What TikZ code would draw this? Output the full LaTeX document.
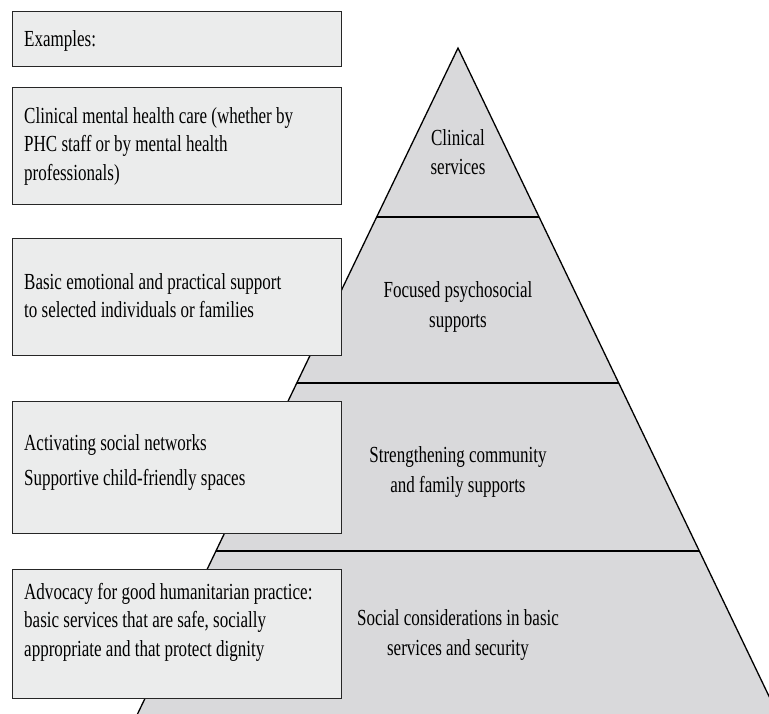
\documentclass[tikz,border=0pt]{standalone}
\usepackage{fontspec}
\setmainfont{Liberation Serif}[FakeStretch=0.74]
\usetikzlibrary{calc}
\definecolor{boxfill}{HTML}{EBECEC}
\definecolor{pyrfill}{HTML}{D9D9DB}
\tikzset{
  exbox/.style = {draw = black!85, line width = 1.4pt, fill = boxfill, minimum width = 329pt, inner sep = 0pt, anchor = north west},
  extext/.style = {anchor = north west, align = left, inner sep = 0pt, font = \fontsize{23}{28.5}\selectfont},
  tier/.style = {align = center, inner sep = 0pt, font = \fontsize{23}{29.5}\selectfont},
  layer/.style = {line width = 1.3pt}
}
\begin{document}
\begin{tikzpicture}[x=1pt,y=-1pt]
\useasboundingbox (0,0) rectangle (769,713);
\clip (0,0) rectangle (769,713);
% pyramid
\coordinate (apex) at (458,48);
\coordinate (bl) at (125,740);
\coordinate (br) at (790,740);
\filldraw[fill = pyrfill, layer] (apex) -- (br) -- (bl) -- cycle;
\foreach \t/\n in {0.2442/1, 0.4841/2, 0.7269/3}
  \draw[layer] ($(apex)!\t!(bl)$) coordinate (cut\n l) -- ($(apex)!\t!(br)$) coordinate (cut\n r);
\node[tier] (clinical) at (458,152) {Clinical\\services};
\node[tier] (focused) at (458,307) {Focused psychosocial\\supports};
\node[tier] (community) at (458,472) {Strengthening community\\and family supports};
\node[tier] (basic) at (458,635) {Social considerations in basic\\services and security};
% examples
\node[exbox, minimum height = 55pt] (exbox) at (12,11) {};
\node[exbox, minimum height = 117pt] (clinbox) at (12,87) {};
\node[exbox, minimum height = 117pt] (focbox) at (12,238) {};
\node[exbox, minimum height = 132pt] (combox) at (12,401) {};
\node[exbox, minimum height = 129pt] (basbox) at (12,569) {};
\node[extext] (extxt) at (24,30) {Examples:};
\node[extext] (clintxt) at (24,107) {Clinical mental health care (whether by\\PHC staff or by mental health\\professionals)};
\node[extext] (foctxt) at (24,273) {Basic emotional and practical support\\to selected individuals or families};
\node[extext] (comtxt) at (24,434) {Activating social networks\\[6.5pt]Supportive child-friendly spaces};
\node[extext] (bastxt) at (24,583) {Advocacy for good humanitarian practice:\\basic services that are safe, socially\\appropriate and that protect dignity};
\end{tikzpicture}
\end{document}
